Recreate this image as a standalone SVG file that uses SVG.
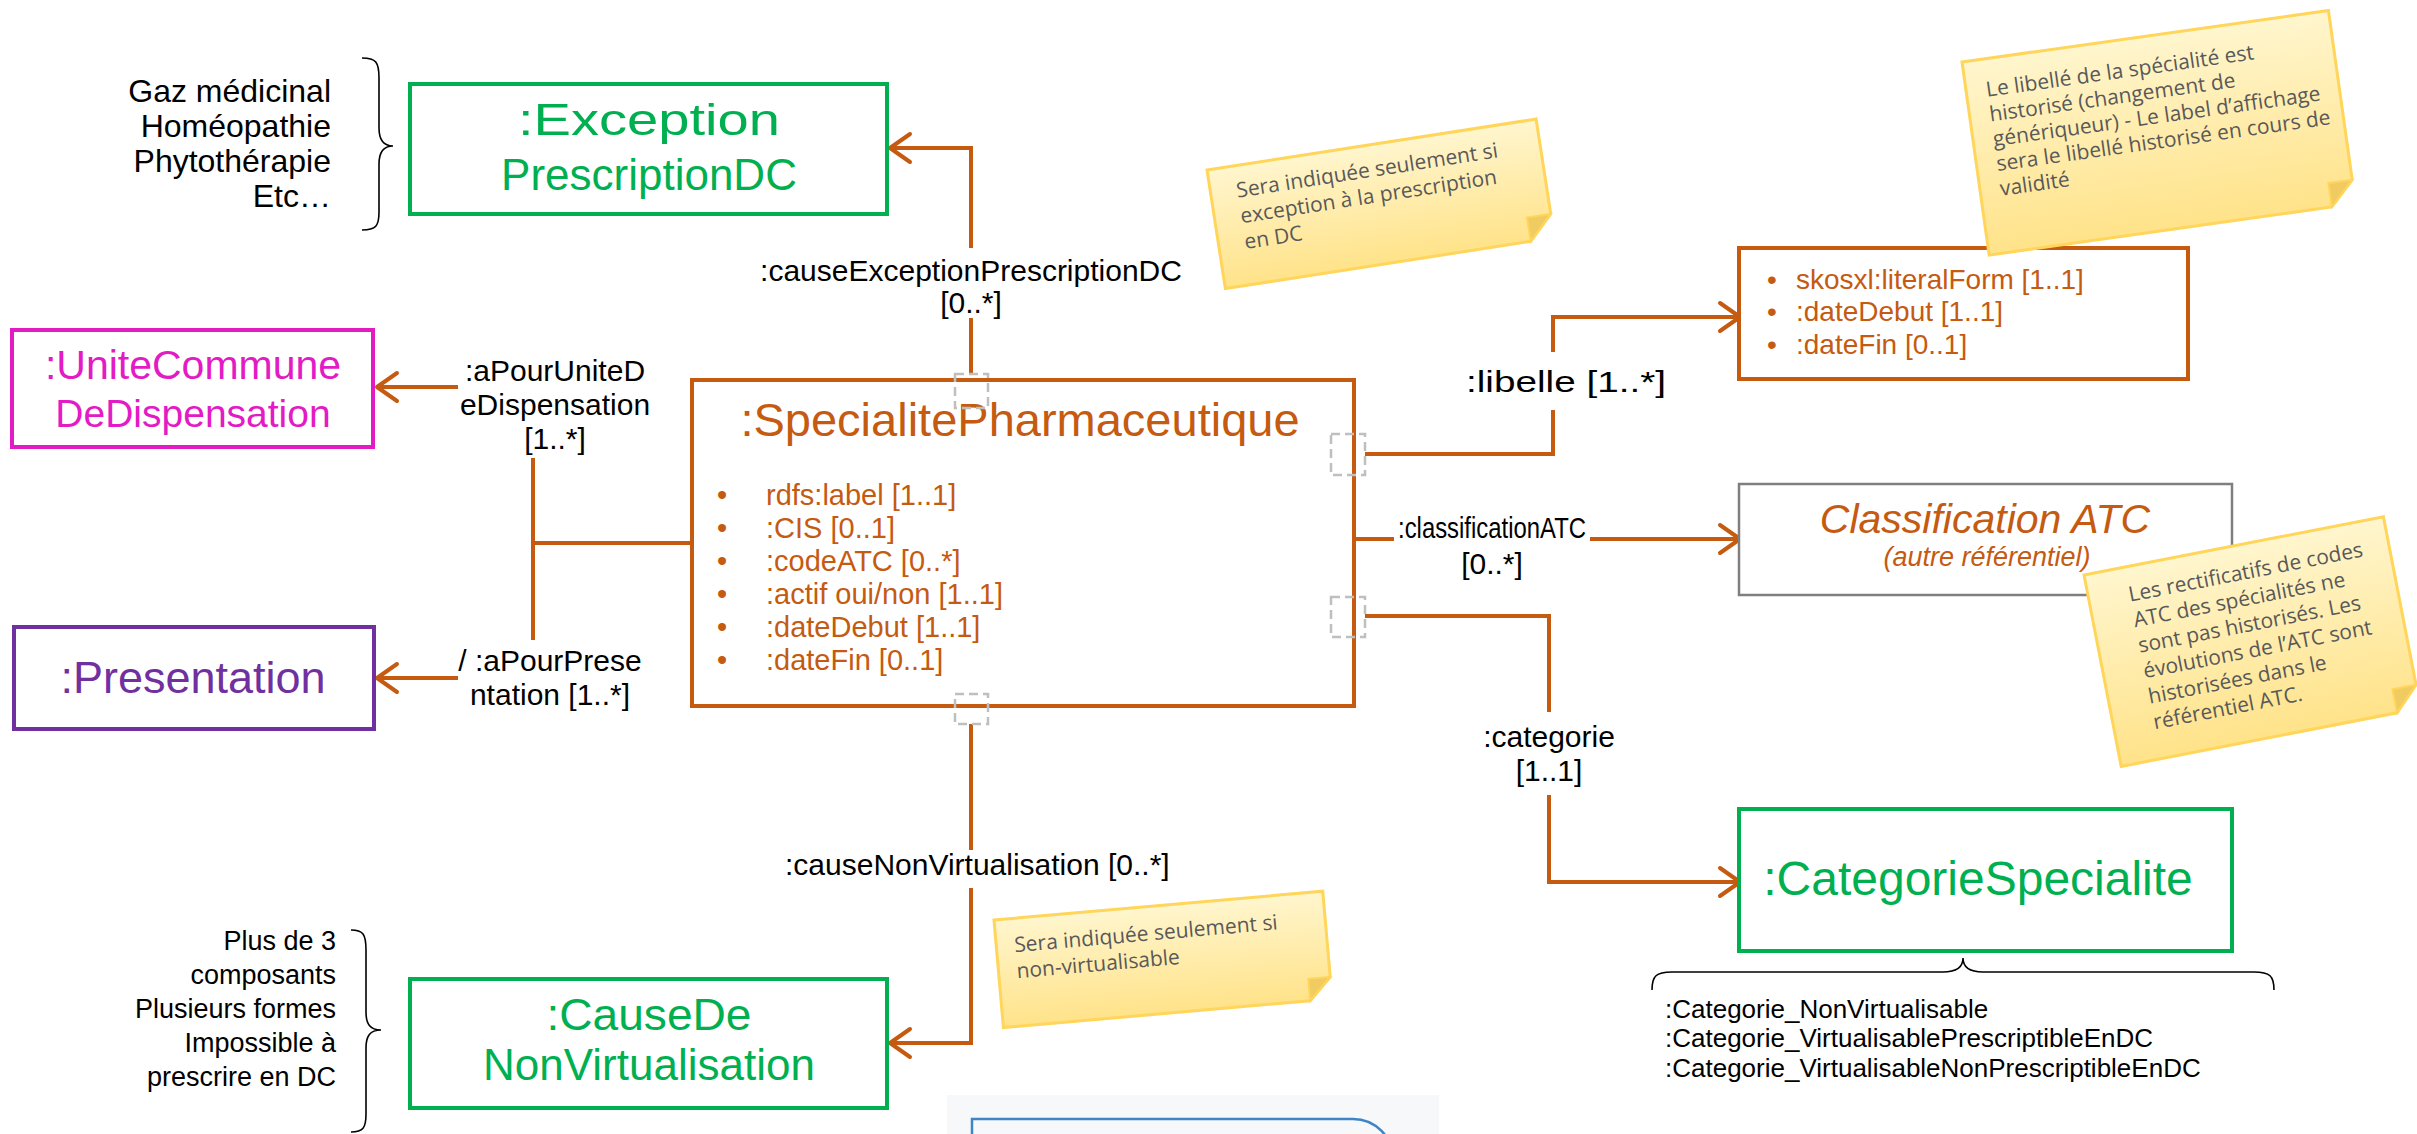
<svg xmlns="http://www.w3.org/2000/svg" width="2417" height="1134" viewBox="0 0 2417 1134">
<style>
.lbl{font-family:"Liberation Sans",Arial,sans-serif;font-size:30px;fill:#000}
.att{font-family:"Liberation Sans",Arial,sans-serif;font-size:28px;fill:#C55A11}
.conn{fill:none;stroke:#C55A11;stroke-width:4}
.arr{marker-end:url(#arr)}
.wb{fill:#fff}
.dash{fill:none;stroke:#BFBFBF;stroke-width:2.5;stroke-dasharray:9 5}
.gbox{fill:#fff;stroke:#00B050;stroke-width:4}
.gtxt{font-family:"Liberation Sans",Arial,sans-serif;font-size:44px;fill:#00B050;text-anchor:middle}
.note{fill:url(#ng);stroke:#FFD55A;stroke-width:3}
.fold{fill:#EFCB62;stroke:#FFD55A;stroke-width:2}
.nt{font-family:"Open Sans","DejaVu Sans",sans-serif;font-size:21px;fill:#595959}
.brace{fill:none;stroke:#000;stroke-width:1.6}
</style>
<defs>
<linearGradient id="ng" x1="0" y1="0" x2="0" y2="1">
<stop offset="0" stop-color="#FFF6CE"/><stop offset="1" stop-color="#FFE38A"/>
</linearGradient>
<marker id="arr" markerUnits="userSpaceOnUse" markerWidth="40" markerHeight="40" viewBox="-30 -20 40 40" refX="0" refY="0" orient="auto" overflow="visible">
<path d="M-20,-14 L0,0 L-20,14" fill="none" stroke="#C55A11" stroke-width="4" stroke-linecap="round" stroke-linejoin="round"/>
</marker>
</defs>
<rect width="2417" height="1134" fill="#fff"/>

<g id="connectors">
<path class="conn arr" d="M971,374 V148 H890"/>
<path class="conn" d="M692,543 H533 M533,387 V678"/>
<path class="conn arr" d="M533,387 H377"/>
<path class="conn arr" d="M533,678 H377"/>
<path class="conn arr" d="M1365,454 H1553 V317 H1740"/>
<path class="conn arr" d="M1354,539 H1740"/>
<path class="conn arr" d="M1365,616 H1549 V882 H1740"/>
<path class="conn arr" d="M971,724 V1043 H890"/>
</g>

<g id="label-causeException">
<rect class="wb" x="755" y="248" width="432" height="70"/>
<text class="lbl" x="971" y="281" text-anchor="middle">:causeExceptionPrescriptionDC</text>
<text class="lbl" x="971" y="313" text-anchor="middle">[0..*]</text>
</g>
<g id="label-aPourUnite">
<rect class="wb" x="458" y="345" width="194" height="113"/>
<text class="lbl" x="555" y="381" text-anchor="middle">:aPourUniteD</text>
<text class="lbl" x="555" y="415" text-anchor="middle">eDispensation</text>
<text class="lbl" x="555" y="449" text-anchor="middle">[1..*]</text>
</g>
<g id="label-aPourPresentation">
<rect class="wb" x="458" y="640" width="186" height="74"/>
<text class="lbl" x="550" y="671" text-anchor="middle">/ :aPourPrese</text>
<text class="lbl" x="550" y="705" text-anchor="middle">ntation [1..*]</text>
</g>
<g id="label-libelle">
<rect class="wb" x="1462" y="352" width="212" height="58"/>
<text class="lbl" x="1566" y="392" text-anchor="middle" textLength="200" lengthAdjust="spacingAndGlyphs">:libelle [1..*]</text>
</g>
<g id="label-classificationATC">
<rect class="wb" x="1394" y="505" width="196" height="74"/>
<text class="lbl" x="1492" y="538" text-anchor="middle" textLength="188" lengthAdjust="spacingAndGlyphs">:classificationATC</text>
<text class="lbl" x="1492" y="574" text-anchor="middle">[0..*]</text>
</g>
<g id="label-categorie">
<rect class="wb" x="1470" y="712" width="160" height="83"/>
<text class="lbl" x="1549" y="747" text-anchor="middle">:categorie</text>
<text class="lbl" x="1549" y="781" text-anchor="middle">[1..1]</text>
</g>
<g id="label-causeNonVirtualisation">
<rect class="wb" x="780" y="850" width="420" height="38"/>
<text class="lbl" x="785" y="875">:causeNonVirtualisation [0..*]</text>
</g>

<g id="node-SpecialitePharmaceutique">
<rect x="692" y="380" width="662" height="326" fill="none" stroke="#C55A11" stroke-width="4"/>
<text x="1020" y="436" text-anchor="middle" style="font-family:'Liberation Sans',Arial,sans-serif;font-size:47px;fill:#C55A11">:SpecialitePharmaceutique</text>
<g class="att" style="font-size:29px">
<text x="717" y="505">•</text><text x="766" y="505">rdfs:label [1..1]</text>
<text x="717" y="538">•</text><text x="766" y="538">:CIS [0..1]</text>
<text x="717" y="571">•</text><text x="766" y="571">:codeATC [0..*]</text>
<text x="717" y="604">•</text><text x="766" y="604">:actif oui/non [1..1]</text>
<text x="717" y="637">•</text><text x="766" y="637">:dateDebut [1..1]</text>
<text x="717" y="670">•</text><text x="766" y="670">:dateFin [0..1]</text>
</g>
<rect class="dash" x="955" y="374" width="33" height="34"/>
<rect class="dash" x="955" y="694" width="33" height="30"/>
<rect class="dash" x="1331" y="434" width="34" height="41"/>
<rect class="dash" x="1331" y="597" width="34" height="40"/>
</g>

<g id="node-ExceptionPrescriptionDC">
<rect class="gbox" x="410" y="84" width="477" height="130"/>
<text class="gtxt" x="649" y="135" textLength="262" lengthAdjust="spacingAndGlyphs">:Exception</text>
<text class="gtxt" x="649" y="190">PrescriptionDC</text>
</g>

<g id="node-CauseDeNonVirtualisation">
<rect class="gbox" x="410" y="979" width="477" height="129"/>
<text class="gtxt" x="649" y="1030" textLength="205" lengthAdjust="spacingAndGlyphs">:CauseDe</text>
<text class="gtxt" x="649" y="1080">NonVirtualisation</text>
</g>

<g id="node-UniteCommuneDeDispensation">
<rect x="12" y="330" width="361" height="117" fill="#fff" stroke="#E31BC5" stroke-width="4"/>
<text x="193" y="379" text-anchor="middle" style="font-family:'Liberation Sans',Arial,sans-serif;font-size:41px;fill:#E31BC5">:UniteCommune</text>
<text x="193" y="427" text-anchor="middle" style="font-family:'Liberation Sans',Arial,sans-serif;font-size:39px;fill:#E31BC5">DeDispensation</text>
</g>

<g id="node-Presentation">
<rect x="14" y="627" width="360" height="102" fill="#fff" stroke="#7030A0" stroke-width="4"/>
<text x="193" y="693" text-anchor="middle" style="font-family:'Liberation Sans',Arial,sans-serif;font-size:45px;fill:#7030A0">:Presentation</text>
</g>

<g id="node-Libelle">
<rect x="1739" y="248" width="449" height="131" fill="#fff" stroke="#C55A11" stroke-width="4"/>
<g class="att">
<text x="1767" y="289">•</text><text x="1796" y="289">skosxl:literalForm [1..1]</text>
<text x="1767" y="321">•</text><text x="1796" y="321">:dateDebut [1..1]</text>
<text x="1767" y="354">•</text><text x="1796" y="354">:dateFin [0..1]</text>
</g>
</g>

<g id="node-ClassificationATC">
<rect x="1739" y="484" width="493" height="111" fill="#fff" stroke="#7F7F7F" stroke-width="2.5"/>
<text x="1985" y="533" text-anchor="middle" style="font-family:'Liberation Sans',Arial,sans-serif;font-size:41px;font-style:italic;fill:#C55A11">Classification ATC</text>
<text x="1987" y="566" text-anchor="middle" style="font-family:'Liberation Sans',Arial,sans-serif;font-size:27px;font-style:italic;fill:#C55A11">(autre référentiel)</text>
</g>

<g id="node-CategorieSpecialite">
<rect class="gbox" x="1739" y="809" width="493" height="142"/>
<text class="gtxt" x="1978" y="895" style="font-size:48px">:CategorieSpecialite</text>
</g>

<g id="list-categories">
<path class="brace" d="M1652,990 C1652,976 1656,972 1672,972 L1943,972 C1955,972 1963,968 1963,958 C1963,968 1971,972 1983,972 L2254,972 C2270,972 2274,976 2274,990"/>
<text class="lbl" x="1665" y="1018" style="font-size:26px">:Categorie_NonVirtualisable</text>
<text class="lbl" x="1665" y="1047" style="font-size:26px">:Categorie_VirtualisablePrescriptibleEnDC</text>
<text class="lbl" x="1665" y="1077" style="font-size:26px">:Categorie_VirtualisableNonPrescriptibleEnDC</text>
</g>

<g id="list-exceptions">
<text class="lbl" x="331" y="102" text-anchor="end" style="font-size:32px">Gaz médicinal</text>
<text class="lbl" x="331" y="137" text-anchor="end" style="font-size:32px">Homéopathie</text>
<text class="lbl" x="331" y="172" text-anchor="end" style="font-size:32px">Phytothérapie</text>
<text class="lbl" x="331" y="207" text-anchor="end" style="font-size:32px">Etc…</text>
<path class="brace" d="M362,58 C376,58 379,62 379,78 L379,128 C379,140 383,146 393,146 C383,146 379,152 379,164 L379,212 C379,226 376,230 362,230"/>
</g>

<g id="list-causes">
<text class="lbl" x="336" y="950" text-anchor="end" style="font-size:27px">Plus de 3</text>
<text class="lbl" x="336" y="984" text-anchor="end" style="font-size:27px">composants</text>
<text class="lbl" x="336" y="1018" text-anchor="end" style="font-size:27px">Plusieurs formes</text>
<text class="lbl" x="336" y="1052" text-anchor="end" style="font-size:27px">Impossible à</text>
<text class="lbl" x="336" y="1086" text-anchor="end" style="font-size:27px">prescrire en DC</text>
<path class="brace" d="M351,930 C363,930 366,934 366,950 L366,1012 C366,1024 370,1030 381,1030 C370,1030 366,1036 366,1048 L366,1114 C366,1128 363,1132 351,1132"/>
</g>

<g id="note-exception" transform="translate(1207,170) rotate(-8.8)">
<path class="note" d="M0,0 H333 V96 L309,120 H0 Z"/>
<path class="fold" d="M333,96 L309,120 L309,96 Z"/>
<text class="nt" x="26" y="32">Sera indiquée seulement si</text>
<text class="nt" x="26" y="58">exception à la prescription</text>
<text class="nt" x="26" y="84">en DC</text>
</g>

<g id="note-libelle" transform="translate(1962,62) rotate(-8)">
<path class="note" d="M0,0 H370 V171 L346,195 H0 Z"/>
<path class="fold" d="M370,171 L346,195 L346,171 Z"/>
<text class="nt" x="20" y="38">Le libellé de la spécialité est</text>
<text class="nt" x="20" y="63">historisé (changement de</text>
<text class="nt" x="20" y="88">génériqueur) - Le label d’affichage</text>
<text class="nt" x="20" y="113">sera le libellé historisé en cours de</text>
<text class="nt" x="20" y="138">validité</text>
</g>

<g id="note-atc" transform="translate(2084,575) rotate(-11)">
<path class="note" d="M0,0 H305 V171 L281,195 H0 Z"/>
<path class="fold" d="M305,171 L281,195 L281,171 Z"/>
<text class="nt" x="40" y="35">Les rectificatifs de codes</text>
<text class="nt" x="40" y="61">ATC des spécialités ne</text>
<text class="nt" x="40" y="87">sont pas historisés. Les</text>
<text class="nt" x="40" y="113">évolutions de l’ATC sont</text>
<text class="nt" x="40" y="139">historisées dans le</text>
<text class="nt" x="40" y="165">référentiel ATC.</text>
</g>

<g id="note-nonvirtualisable" transform="translate(994,920) rotate(-5)">
<path class="note" d="M0,0 H330 V86 L308,108 H0 Z"/>
<path class="fold" d="M330,86 L308,108 L308,86 Z"/>
<text class="nt" x="18" y="34">Sera indiquée seulement si</text>
<text class="nt" x="18" y="60">non-virtualisable</text>
</g>

<g id="bottom-box">
<rect x="947" y="1095" width="492" height="50" fill="#F7F8FA"/>
<path d="M972,1140 V1119 H1353 A40,40 0 0 1 1393,1159" fill="none" stroke="#3D85C6" stroke-width="2.5"/>
</g>
</svg>
